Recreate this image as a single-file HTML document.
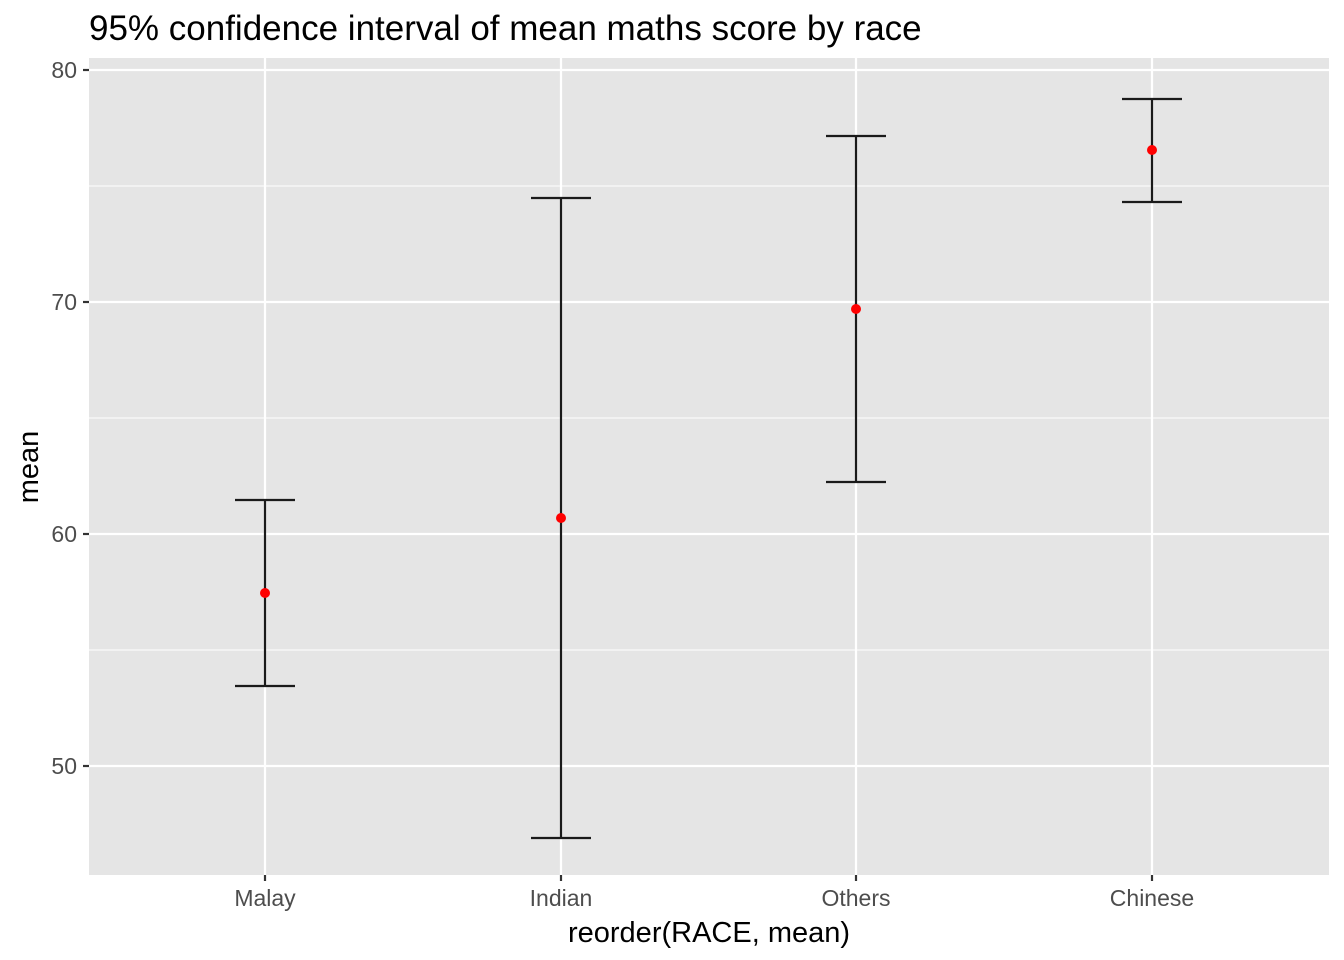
<!DOCTYPE html>
<html><head><meta charset="utf-8"><style>
html,body{margin:0;padding:0;background:#fff;}
svg{display:block;font-family:"Liberation Sans",Arial,sans-serif;}
</style></head><body>
<svg width="1344" height="960" viewBox="0 0 1344 960" xmlns="http://www.w3.org/2000/svg">
<rect width="1344" height="960" fill="#fff"/>
<rect x="89" y="58" width="1240" height="817" fill="#e5e5e5"/>
<g stroke="#fff" stroke-width="1.1">
<line x1="89" x2="1329" y1="186" y2="186"/>
<line x1="89" x2="1329" y1="418" y2="418"/>
<line x1="89" x2="1329" y1="650" y2="650"/>
</g>
<g stroke="#fff" stroke-width="2.2">
<line x1="89" x2="1329" y1="70" y2="70"/>
<line x1="89" x2="1329" y1="302" y2="302"/>
<line x1="89" x2="1329" y1="534" y2="534"/>
<line x1="89" x2="1329" y1="766" y2="766"/>
<line x1="265" x2="265" y1="58" y2="875"/>
<line x1="561" x2="561" y1="58" y2="875"/>
<line x1="856" x2="856" y1="58" y2="875"/>
<line x1="1152" x2="1152" y1="58" y2="875"/>
</g>
<g stroke="#1a1a1a" stroke-width="2.2" fill="none">
<path d="M235 500H295M265 500V686M235 686H295"/>
<path d="M531 198H591M561 198V838M531 838H591"/>
<path d="M826 136H886M856 136V482M826 482H886"/>
<path d="M1122 99H1182M1152 99V202M1122 202H1182"/>
</g>
<g fill="#ff0000">
<circle cx="265" cy="593" r="5"/>
<circle cx="561" cy="518" r="5"/>
<circle cx="856" cy="309" r="5"/>
<circle cx="1152" cy="150" r="5"/>
</g>
<g stroke="#333" stroke-width="2.2">
<line x1="83" x2="89" y1="70" y2="70"/><line x1="83" x2="89" y1="302" y2="302"/>
<line x1="83" x2="89" y1="534" y2="534"/><line x1="83" x2="89" y1="766" y2="766"/>
<line x1="265" x2="265" y1="875" y2="881"/><line x1="561" x2="561" y1="875" y2="881"/>
<line x1="856" x2="856" y1="875" y2="881"/><line x1="1152" x2="1152" y1="875" y2="881"/>
</g>
<g fill="#4d4d4d" font-size="23" text-anchor="end">
<text x="77" y="78">80</text><text x="77" y="310">70</text>
<text x="77" y="542">60</text><text x="77" y="774">50</text>
</g>
<g fill="#4d4d4d" font-size="23" text-anchor="middle">
<text x="265" y="906">Malay</text><text x="561" y="906">Indian</text>
<text x="856" y="906">Others</text><text x="1152" y="906">Chinese</text>
</g>
<text x="709" y="942" font-size="29" text-anchor="middle" fill="#000">reorder(RACE, mean)</text>
<text transform="translate(38,467) rotate(-90)" font-size="29" text-anchor="middle" fill="#000">mean</text>
<text x="89" y="40" font-size="35" fill="#000">95% confidence interval of mean maths score by race</text>
</svg>
</body></html>
